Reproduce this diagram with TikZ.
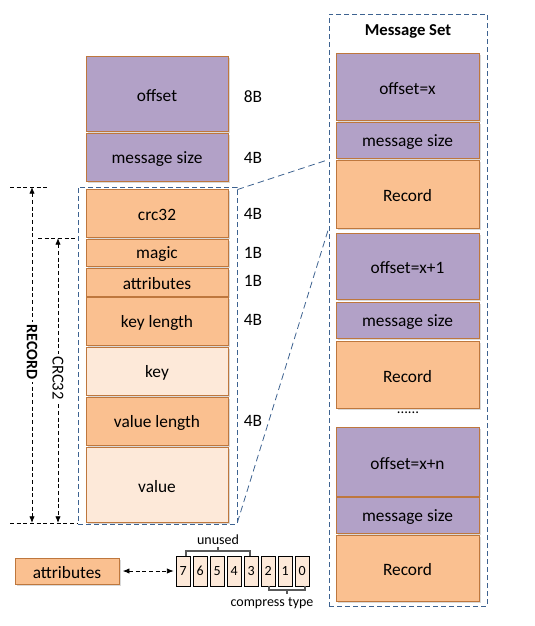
\documentclass[tikz,border=0pt]{standalone}
\usepackage{fontspec}
\setmainfont{Carlito}
\usetikzlibrary{fit,shadows,arrows.meta}
\definecolor{pur}{HTML}{B2A1C7}
\definecolor{org}{HTML}{FAC090}
\definecolor{lor}{HTML}{FDE9D9}
\definecolor{brd}{HTML}{BE773D}
\definecolor{dblue}{HTML}{3D6290}
\definecolor{brk}{HTML}{595959}
\tikzset{
  cell/.style={draw=brd, line width=0.6pt, inner sep=0pt,
     drop shadow={opacity=0.3, shadow xshift=1.5pt, shadow yshift=-1.5pt}},
  pcell/.style={cell, fill=pur},
  ocell/.style={cell, fill=org},
  lcell/.style={cell, fill=lor},
  txt/.style={font=\fontsize{13}{15}\selectfont, inner sep=0pt, yshift=-1.5pt},
  grp/.style={draw=dblue, dash pattern=on 4pt off 2pt, line width=0.6pt, inner sep=0pt},
  conn/.style={draw=dblue, dash pattern=on 5pt off 3pt, line width=0.6pt},
  sz/.style={font=\fontsize{13}{15}\selectfont},
  dim/.style={draw=black, dash pattern=on 3pt off 2pt, line width=0.6pt},
  bit/.style={draw=black, fill=lor, line width=0.6pt, inner sep=0pt},
  bittxt/.style={font=\fontsize{10.5}{12}\selectfont, inner sep=0pt},
  brkt/.style={draw=brk, line width=0.9pt},
}
\begin{document}
\begin{tikzpicture}[x=0.75pt,y=-0.75pt]
\useasboundingbox (0,0) rectangle (535,626);
% message set group
\node[grp, fit={(329,14)(487,606)}] (mset) {};
\node[font=\fontsize{12.5}{14}\selectfont\bfseries] (mstitle) at (408,31) {Message Set};
% left column
\node[pcell, fit={(86,56)(228,131)}, label={[txt]center:offset}] (off) {};
\node[pcell, fit={(86,133)(228,181)}, label={[txt]center:message size}] (msz) {};
\node[grp, fit={(78,187)(237,524)}] (recbox) {};
\node[ocell, fit={(86,189)(228,237)}, label={[txt]center:crc32}] (crc) {};
\node[ocell, fit={(86,239)(228,266)}, label={[txt]center:magic}] (magic) {};
\node[ocell, fit={(86,268)(228,296)}, label={[txt]center:attributes}] (attr) {};
\node[ocell, fit={(86,297)(228,345)}, label={[txt]center:key length}] (klen) {};
\node[lcell, fit={(86,347)(228,395)}, label={[txt]center:key}] (key) {};
\node[ocell, fit={(86,397)(228,445)}, label={[txt]center:value length}] (vlen) {};
\node[lcell, fit={(86,447)(228,522)}, label={[txt]center:value}] (val) {};
% sizes
\node[sz] (s1) at (253,97) {8B};
\node[sz] (s2) at (253,158) {4B};
\node[sz] (s3) at (253,214) {4B};
\node[sz] (s4) at (253,253) {1B};
\node[sz] (s5) at (253,281) {1B};
\node[sz] (s6) at (253,320) {4B};
\node[sz] (s7) at (253,421) {4B};
% right column
\node[pcell, fit={(336,53)(479,120)}, label={[txt]center:offset=x}] (o1) {};
\node[pcell, fit={(336,122)(479,158)}, label={[txt]center:message size}] (m1) {};
\node[ocell, fit={(336,160)(479,228)}, label={[txt]center:Record}] (r1) {};
\node[pcell, fit={(336,233)(479,299)}, label={[txt]center:offset=x+1}] (o2) {};
\node[pcell, fit={(336,302)(479,338)}, label={[txt]center:message size}] (m2) {};
\node[ocell, fit={(336,341)(479,408)}, label={[txt]center:Record}] (r2) {};
\node[font=\fontsize{11}{13}\selectfont] (dots) at (408,413) {......};
\node[pcell, fit={(336,427)(479,496)}, label={[txt]center:offset=x+n}] (o3) {};
\node[pcell, fit={(336,497)(479,533)}, label={[txt]center:message size}] (m3) {};
\node[ocell, fit={(336,535)(479,601)}, label={[txt]center:Record}] (r3) {};
% connectors
\draw[conn] ([yshift=-2.2pt]recbox.north east) -- (mset.west |- r1.north);
\draw[conn] ([yshift=1.5pt]recbox.south east) -- (mset.west |- r1.south);
% dimension lines
\coordinate (rt0) at (10,187);
\coordinate (rt1) at (48,187);
\coordinate (ct0) at (38,238);
\coordinate (ct1) at (77,238);
\coordinate (bt0) at (10,523);
\coordinate (bt1) at (78,523);
\draw[dim] (rt0) -- (rt1);
\draw[dim] (ct0) -- (ct1);
\draw[dim] (bt0) -- (bt1);
\coordinate (ra) at (32,187);
\coordinate (rb) at (32,523);
\coordinate (ca) at (58,238);
\coordinate (cb) at (58,523);
\draw[dim, {Latex[length=5pt,width=4pt]}-{Latex[length=5pt,width=4pt]}] (ra) -- (rb);
\draw[dim, {Latex[length=5pt,width=4pt]}-{Latex[length=5pt,width=4pt]}] (ca) -- (cb);
\node[fill=white, inner xsep=2pt, inner ysep=12pt, rotate=-90, font=\fontsize{12}{14}\selectfont\bfseries] (rlab) at (32,352) {RECORD};
\node[fill=white, inner xsep=2pt, inner ysep=3pt, rotate=-90, font=\fontsize{12.5}{14}\selectfont] (clab) at (58,378) {CRC32};
% attributes bits
\node[ocell, fit={(15,558)(119,584)}, label={[txt]center:attributes}] (attr2) {};
\foreach \b [count=\i from 0] in {7,6,5,4,3,2,1,0}{
  \node[bit, fit={(176+17*\i,556)(190.5+17*\i,586)}, label={[bittxt]center:\b}] (b\b) {};
}
\draw[dim, {Latex[length=5pt,width=4pt]}-{Latex[length=5pt,width=4pt]}] ([xshift=2.5pt]attr2.east) -- ([xshift=-1.5pt]b7.west);
% brackets
\coordinate (u0) at (186,556);
\coordinate (u1) at (250,556);
\coordinate (um) at (218,551);
\draw[brkt] (u0) -- (186,551) -- (250,551) -- (u1);
\draw[brkt] (um) -- (218,547);
\node[font=\fontsize{10.5}{12}\selectfont] (unused) at (218,540) {unused};
\coordinate (c0) at (269,586);
\coordinate (c1) at (305,586);
\draw[brkt] (c0) -- (269,590) -- (305,590) -- (c1);
\draw[brkt] (287,590) -- (287,594);
\node[font=\fontsize{10.5}{12}\selectfont] (ctype) at (272,603) {compress type};
\end{tikzpicture}
\end{document}
